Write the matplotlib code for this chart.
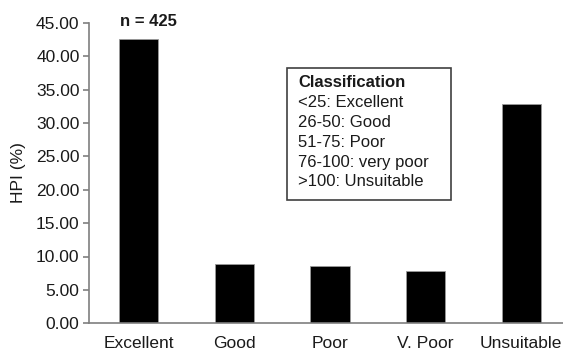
import matplotlib.pyplot as plt
from matplotlib.patches import Rectangle

categories = ["Excellent", "Good", "Poor", "V. Poor", "Unsuitable"]
hpi_pct = [42.55, 8.83, 8.58, 7.83, 32.8]
class_lines = ["<25: Excellent", "26-50: Good", "51-75: Poor",
               "76-100: very poor", ">100: Unsuitable"]
n_label = "n = 425"

plt.rcParams['font.family'] = ['Liberation Sans', 'DejaVu Sans']

W, H = 563, 353
fig = plt.figure(figsize=(W / 100, H / 100), dpi=100)
# axes in pixel coords: left 89.3, right 563, top 22.7, bottom 323.3
ax = fig.add_axes([89.3 / W, (H - 323.3) / H, (563 - 89.3) / W, (323.3 - 22.7) / H])

x = range(len(categories))
ax.bar(x, hpi_pct, width=0.41, color='black', edgecolor='#9a9a9a', linewidth=0.6)

ax.set_xlim(-0.514, 4.436)
ax.set_ylim(0, 45)
ax.set_yticks([i * 5 for i in range(10)])
ax.set_yticklabels(["%.2f" % (i * 5) for i in range(10)])
ax.set_xticks(list(x))
ax.set_xticklabels(categories)

for side in ['top', 'right']:
    ax.spines[side].set_visible(False)
for side in ['left', 'bottom']:
    ax.spines[side].set_color('#7f7f7f')
    ax.spines[side].set_linewidth(1.2)

ax.tick_params(axis='y', direction='out', length=4, width=1.2, color='#7f7f7f',
               labelsize=12.5, labelcolor='#1a1a1a', pad=3)
ax.tick_params(axis='x', length=0, labelsize=12.5, labelcolor='#1a1a1a', pad=9)

ax.set_ylabel("HPI (%)", fontsize=12.5, color='#1a1a1a', labelpad=7)

ax.text(0.1, 45.15, n_label, ha='center', va='center', fontsize=12,
        fontweight='bold', color='#1a1a1a', clip_on=False)

# classification box (pixel layout converted to figure fractions)
box = Rectangle((286.7 / W, (H - 200) / H), (450.7 - 286.7) / W, (200 - 67.7) / H,
                transform=fig.transFigure, fill=False, edgecolor='#404040', linewidth=1.2)
fig.patches.append(box)
fig.text(298 / W, (H - 82.7) / H, "Classification", ha='left', va='center',
         fontsize=12, fontweight='bold', color='#1a1a1a')
for i, line in enumerate(class_lines):
    fig.text(298 / W, (H - 102.7 - 19.8 * i) / H, line, ha='left', va='center',
             fontsize=12, color='#1a1a1a')

fig.savefig("out.png", dpi=100)
